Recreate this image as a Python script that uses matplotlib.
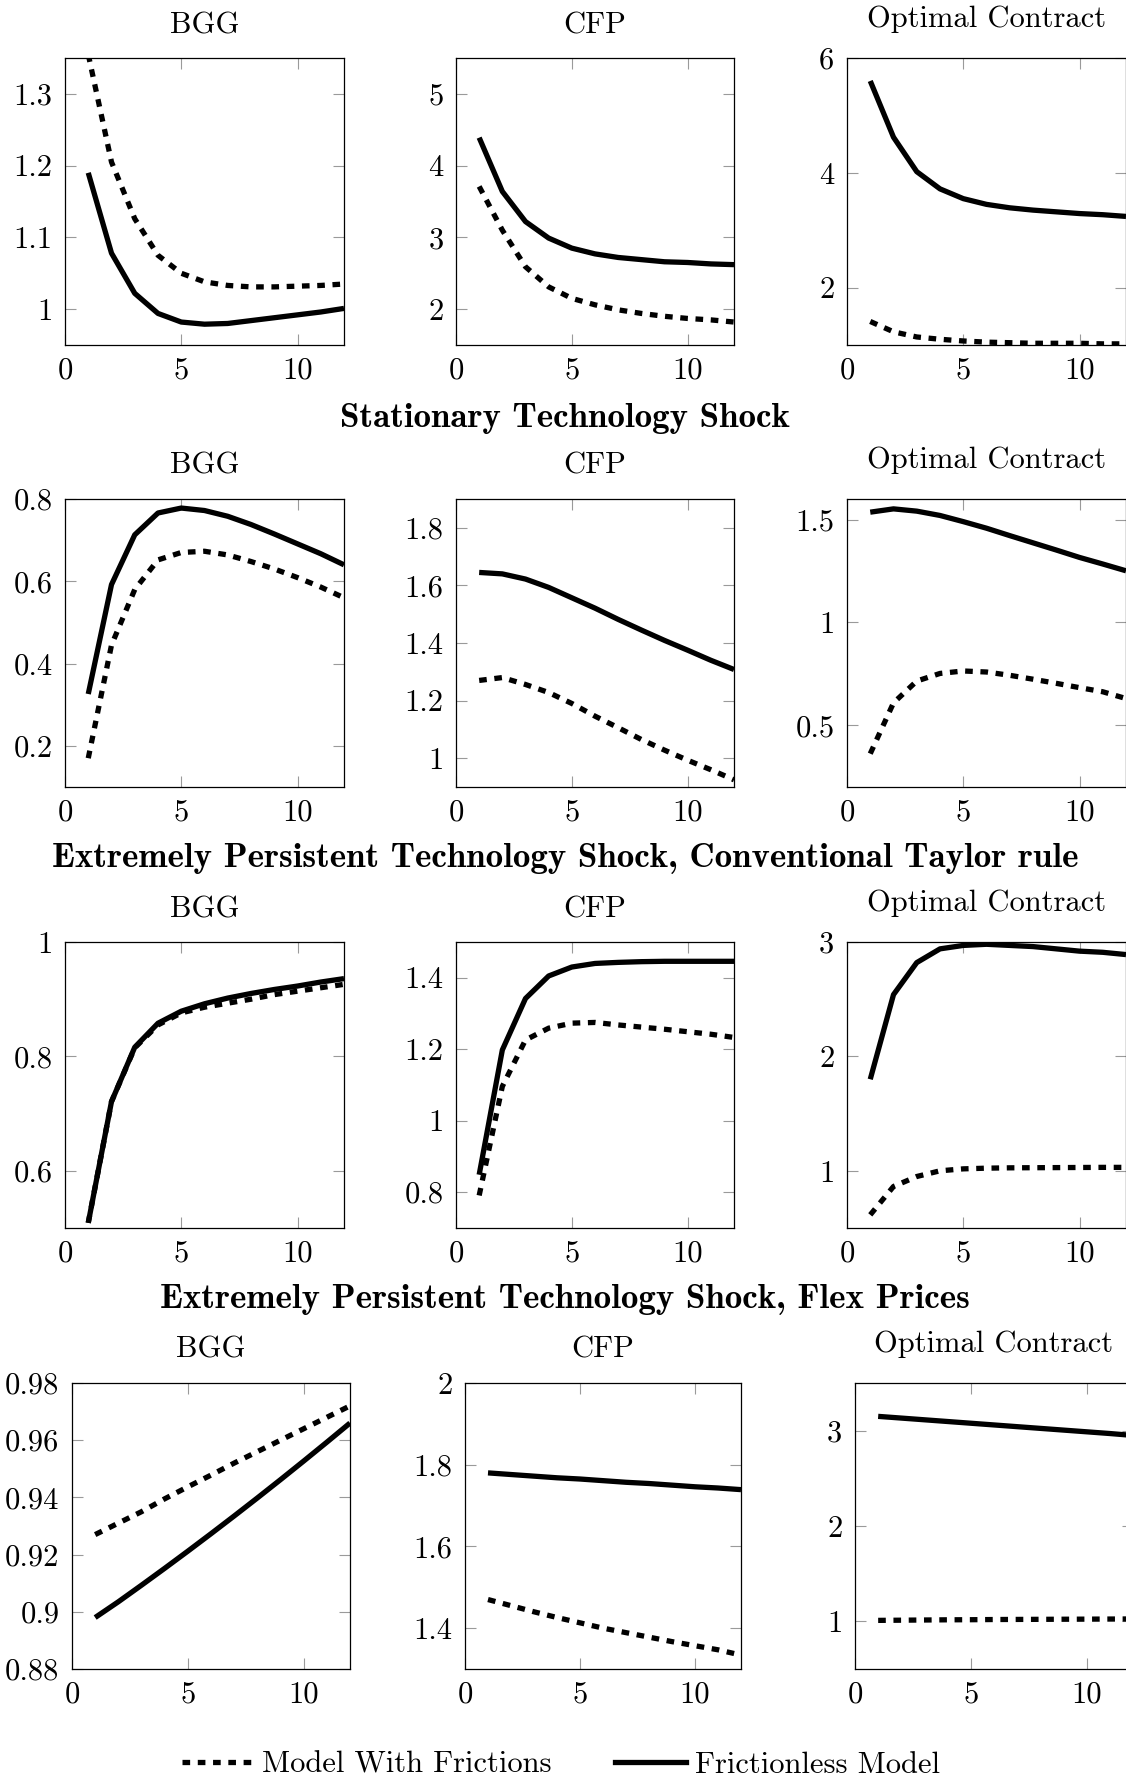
import matplotlib
matplotlib.use("Agg")
import matplotlib.pyplot as plt
from matplotlib.lines import Line2D
from matplotlib.ticker import FixedLocator, FuncFormatter

plt.rcParams["font.family"] = ["cmr10", "DejaVu Serif"]
plt.rcParams["mathtext.fontset"] = "cm"
plt.rcParams["axes.formatter.use_mathtext"] = True
plt.rcParams["lines.scale_dashes"] = False

# ---------------- data ----------------
quarters = [1, 2, 3, 4, 5, 6, 7, 8, 9, 10, 11, 12]

row_titles = ["Stationary Technology Shock",
              "Extremely Persistent Technology Shock, Conventional Taylor rule",
              "Extremely Persistent Technology Shock, Flex Prices"]
col_titles = ["BGG", "CFP", "Optimal Contract"]
legend_labels = ["Model With Frictions", "Frictionless Model"]
xticks = [0, 5, 10]

# Row 1 (top, untitled block)
r1_bgg_fric = [1.355, 1.205, 1.126, 1.075, 1.050, 1.038, 1.033, 1.031, 1.031, 1.032, 1.033, 1.035]
r1_bgg_free = [1.190, 1.078, 1.022, 0.994, 0.982, 0.979, 0.980, 0.984, 0.988, 0.992, 0.996, 1.001]
r1_cfp_fric = [3.71, 3.10, 2.59, 2.31, 2.15, 2.06, 1.99, 1.94, 1.90, 1.87, 1.85, 1.82]
r1_cfp_free = [4.39, 3.64, 3.22, 2.99, 2.85, 2.77, 2.72, 2.69, 2.66, 2.65, 2.63, 2.62]
r1_oc_fric = [1.41, 1.23, 1.14, 1.10, 1.07, 1.05, 1.04, 1.03, 1.03, 1.03, 1.02, 1.02]
r1_oc_free = [5.60, 4.62, 4.02, 3.72, 3.55, 3.45, 3.39, 3.35, 3.32, 3.29, 3.27, 3.24]

# Row 2 (Stationary Technology Shock)
r2_bgg_fric = [0.170, 0.445, 0.580, 0.652, 0.670, 0.673, 0.664, 0.648, 0.630, 0.609, 0.586, 0.560]
r2_bgg_free = [0.326, 0.592, 0.713, 0.766, 0.778, 0.772, 0.758, 0.738, 0.715, 0.691, 0.667, 0.640]
r2_cfp_fric = [1.270, 1.280, 1.256, 1.228, 1.190, 1.146, 1.106, 1.065, 1.028, 0.993, 0.960, 0.925]
r2_cfp_free = [1.645, 1.640, 1.622, 1.593, 1.557, 1.521, 1.482, 1.445, 1.409, 1.375, 1.340, 1.308]
r2_oc_fric = [0.362, 0.609, 0.715, 0.752, 0.764, 0.759, 0.743, 0.724, 0.704, 0.683, 0.663, 0.630]
r2_oc_free = [1.536, 1.552, 1.541, 1.520, 1.490, 1.458, 1.422, 1.387, 1.352, 1.316, 1.284, 1.251]

# Row 3 (Extremely persistent, conventional Taylor rule)
r3_bgg_fric = [0.509, 0.721, 0.815, 0.855, 0.876, 0.886, 0.893, 0.900, 0.908, 0.914, 0.920, 0.926]
r3_bgg_free = [0.509, 0.721, 0.816, 0.858, 0.879, 0.892, 0.902, 0.910, 0.917, 0.923, 0.930, 0.936]
r3_cfp_fric = [0.791, 1.096, 1.226, 1.259, 1.273, 1.275, 1.268, 1.262, 1.256, 1.249, 1.242, 1.233]
r3_cfp_free = [0.849, 1.198, 1.342, 1.405, 1.430, 1.440, 1.443, 1.445, 1.446, 1.446, 1.446, 1.446]
r3_oc_fric = [0.615, 0.863, 0.950, 1.000, 1.017, 1.023, 1.026, 1.027, 1.028, 1.029, 1.030, 1.030]
r3_oc_free = [1.80, 2.54, 2.82, 2.94, 2.97, 2.98, 2.97, 2.96, 2.94, 2.92, 2.91, 2.89]

# Row 4 (Extremely persistent, flex prices)
r4_bgg_fric = [0.927, 0.931, 0.935, 0.9395, 0.9437, 0.9478, 0.952, 0.956, 0.960, 0.964, 0.968, 0.972]
r4_bgg_free = [0.898, 0.9035, 0.9093, 0.9152, 0.9212, 0.9273, 0.9335, 0.9398, 0.9462, 0.9527, 0.9593, 0.966]
r4_cfp_fric = [1.470, 1.455, 1.440, 1.426, 1.413, 1.400, 1.389, 1.378, 1.367, 1.357, 1.347, 1.334]
r4_cfp_free = [1.780, 1.776, 1.772, 1.768, 1.765, 1.761, 1.757, 1.754, 1.750, 1.746, 1.743, 1.739]
r4_oc_fric = [1.010, 1.012, 1.014, 1.016, 1.017, 1.019, 1.020, 1.021, 1.022, 1.023, 1.024, 1.025]
r4_oc_free = [3.150, 3.132, 3.114, 3.096, 3.078, 3.060, 3.042, 3.024, 3.006, 2.988, 2.970, 2.950]

# y-axis ticks per panel
r1_yticks = [[1.0, 1.1, 1.2, 1.3], [2, 3, 4, 5], [2, 4, 6]]
r2_yticks = [[0.2, 0.4, 0.6, 0.8], [1.0, 1.2, 1.4, 1.6, 1.8], [0.5, 1.0, 1.5]]
r3_yticks = [[0.6, 0.8, 1.0], [0.8, 1.0, 1.2, 1.4], [1, 2, 3]]
r4_yticks = [[0.88, 0.90, 0.92, 0.94, 0.96, 0.98], [1.4, 1.6, 1.8, 2.0], [1, 2, 3]]

# ---------------- layout ----------------
W, H = 1126, 1778
fig = plt.figure(figsize=(W / 100, H / 100), dpi=100)

ylims = [
    [(0.95, 1.35), (1.5, 5.5), (1.0, 6.0)],
    [(0.1, 0.8), (0.9, 1.9), (0.2, 1.6)],
    [(0.5, 1.0), (0.7, 1.5), (0.5, 3.0)],
    [(0.88, 0.98), (1.3, 2.0), (0.5, 3.5)],
]
row_tops = [58, 499, 942, 1383]
row_bots = [345, 787, 1228, 1669]
col_lr = [
    [(65, 344), (456, 734), (847, 1126)],
    [(65, 344), (456, 734), (847, 1126)],
    [(65, 344), (456, 734), (847, 1126)],
    [(72, 350), (465, 741), (855, 1133)],
]
title_drop = [0, 0, 6]  # Optimal Contract title sits a little higher
row_title_base = [427, 867, 1308]

series = [
    [(r1_bgg_fric, r1_bgg_free), (r1_cfp_fric, r1_cfp_free), (r1_oc_fric, r1_oc_free)],
    [(r2_bgg_fric, r2_bgg_free), (r2_cfp_fric, r2_cfp_free), (r2_oc_fric, r2_oc_free)],
    [(r3_bgg_fric, r3_bgg_free), (r3_cfp_fric, r3_cfp_free), (r3_oc_fric, r3_oc_free)],
    [(r4_bgg_fric, r4_bgg_free), (r4_cfp_fric, r4_cfp_free), (r4_oc_fric, r4_oc_free)],
]
yticks_all = [r1_yticks, r2_yticks, r3_yticks, r4_yticks]

FS = 22
LW = 3.8
DASH = (5.5, 5.5)
fmt = FuncFormatter(lambda v, p: "%g" % round(v, 4))

for r in range(4):
    t, b = row_tops[r], row_bots[r]
    for c in range(3):
        l, rr = col_lr[r][c]
        ax = fig.add_axes([l / W, 1 - b / H, (rr - l) / W, (b - t) / H])
        fric, free = series[r][c]
        ax.plot(quarters, fric, color="black", lw=LW, dashes=DASH, solid_capstyle="butt")
        ax.plot(quarters, free, color="black", lw=LW, solid_capstyle="butt")
        ax.set_xlim(0, 12)
        ax.set_ylim(*ylims[r][c])
        ax.xaxis.set_major_locator(FixedLocator(xticks))
        ax.yaxis.set_major_locator(FixedLocator(yticks_all[r][c]))
        ax.xaxis.set_major_formatter(fmt)
        ax.yaxis.set_major_formatter(fmt)
        ax.tick_params(direction="in", length=8, width=0.8, color="#9a9a9a",
                       top=True, right=True, labelsize=FS)
        ax.tick_params(axis="x", pad=9)
        ax.tick_params(axis="y", pad=9)
        for s in ax.spines.values():
            s.set_linewidth(0.9)
            s.set_color("black")
        fig.text((l + rr) / 2 / W, 1 - (t - 25 - title_drop[c]) / H, col_titles[c],
                 ha="center", va="baseline", fontsize=FS)

for i, txt in enumerate(row_titles):
    fig.text(565 / W, 1 - row_title_base[i] / H, txt, ha="center", va="baseline",
             fontsize=25.2, family=["cmb10", "DejaVu Serif"], fontweight="bold")

handles = [Line2D([], [], color="black", lw=LW, dashes=DASH),
           Line2D([], [], color="black", lw=LW)]
fig.legend(handles, legend_labels, loc="center", bbox_to_anchor=(561 / W, 1 - 1765 / H),
           ncol=2, frameon=False, fontsize=FS, handlelength=2.3, handletextpad=0.3,
           columnspacing=2.1, borderpad=0, borderaxespad=0)

fig.savefig("out.png", dpi=100)
